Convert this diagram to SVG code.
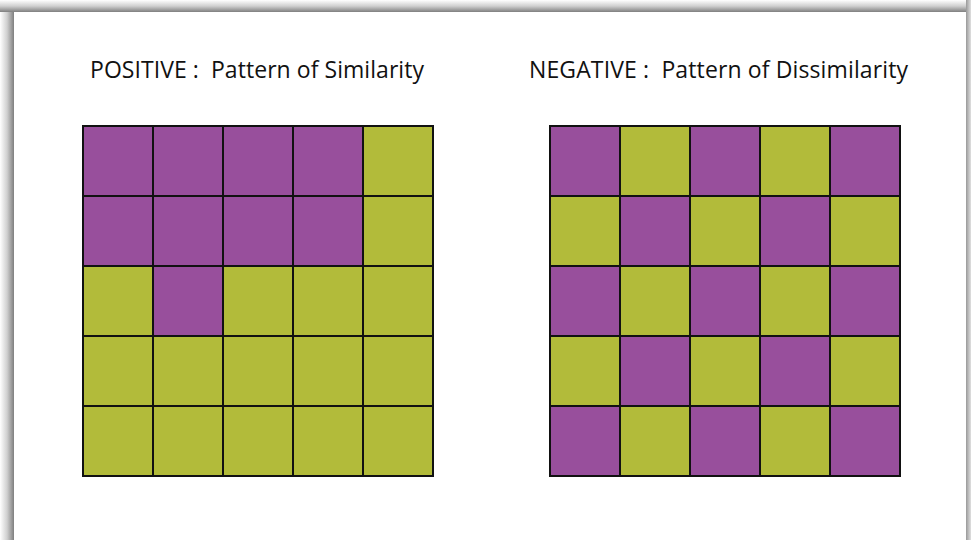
<svg xmlns="http://www.w3.org/2000/svg" width="971" height="540" viewBox="0 0 971 540">
<defs>
<linearGradient id="shL" x1="0" y1="0" x2="1" y2="0">
<stop offset="0" stop-color="#ffffff"/>
<stop offset="0.5" stop-color="#d0d0d0"/>
<stop offset="1" stop-color="#7f7f7f"/>
</linearGradient>
<linearGradient id="shT" x1="0" y1="0" x2="0" y2="1">
<stop offset="0" stop-color="#ffffff"/>
<stop offset="0.5" stop-color="#d0d0d0"/>
<stop offset="1" stop-color="#7f7f7f"/>
</linearGradient>
<linearGradient id="shR" x1="0" y1="0" x2="1" y2="0">
<stop offset="0" stop-color="#999999"/>
<stop offset="1" stop-color="#e0e0e0"/>
</linearGradient>
</defs>
<style>
.t{font-family:"Open Sans","Liberation Sans",sans-serif;font-size:23px;fill:#111;white-space:pre}
.p{fill:#984f9c;stroke:#111;stroke-width:2}
.g{fill:#b2bb3a;stroke:#111;stroke-width:2}
</style>
<rect x="0" y="0" width="971" height="540" fill="#ffffff"/>
<rect x="0" y="0" width="14" height="540" fill="url(#shL)"/>
<rect x="0" y="0" width="971" height="12" fill="url(#shT)"/>
<rect x="966" y="0" width="5" height="540" fill="url(#shR)"/>
<rect x="14" y="12" width="952" height="528" fill="#ffffff"/>
<g id="title-positive"><text class="t" x="90" y="78" xml:space="preserve" textLength="334">POSITIVE :  Pattern of Similarity</text></g>
<g id="title-negative"><text class="t" x="529" y="78" xml:space="preserve" textLength="379">NEGATIVE :  Pattern of Dissimilarity</text></g>
<g id="grid-positive">
<rect class="p" x="83" y="126" width="70" height="70"/>
<rect class="p" x="153" y="126" width="70" height="70"/>
<rect class="p" x="223" y="126" width="70" height="70"/>
<rect class="p" x="293" y="126" width="70" height="70"/>
<rect class="g" x="363" y="126" width="70" height="70"/>
<rect class="p" x="83" y="196" width="70" height="70"/>
<rect class="p" x="153" y="196" width="70" height="70"/>
<rect class="p" x="223" y="196" width="70" height="70"/>
<rect class="p" x="293" y="196" width="70" height="70"/>
<rect class="g" x="363" y="196" width="70" height="70"/>
<rect class="g" x="83" y="266" width="70" height="70"/>
<rect class="p" x="153" y="266" width="70" height="70"/>
<rect class="g" x="223" y="266" width="70" height="70"/>
<rect class="g" x="293" y="266" width="70" height="70"/>
<rect class="g" x="363" y="266" width="70" height="70"/>
<rect class="g" x="83" y="336" width="70" height="70"/>
<rect class="g" x="153" y="336" width="70" height="70"/>
<rect class="g" x="223" y="336" width="70" height="70"/>
<rect class="g" x="293" y="336" width="70" height="70"/>
<rect class="g" x="363" y="336" width="70" height="70"/>
<rect class="g" x="83" y="406" width="70" height="70"/>
<rect class="g" x="153" y="406" width="70" height="70"/>
<rect class="g" x="223" y="406" width="70" height="70"/>
<rect class="g" x="293" y="406" width="70" height="70"/>
<rect class="g" x="363" y="406" width="70" height="70"/>
</g>
<g id="grid-negative">
<rect class="p" x="550" y="126" width="70" height="70"/>
<rect class="g" x="620" y="126" width="70" height="70"/>
<rect class="p" x="690" y="126" width="70" height="70"/>
<rect class="g" x="760" y="126" width="70" height="70"/>
<rect class="p" x="830" y="126" width="70" height="70"/>
<rect class="g" x="550" y="196" width="70" height="70"/>
<rect class="p" x="620" y="196" width="70" height="70"/>
<rect class="g" x="690" y="196" width="70" height="70"/>
<rect class="p" x="760" y="196" width="70" height="70"/>
<rect class="g" x="830" y="196" width="70" height="70"/>
<rect class="p" x="550" y="266" width="70" height="70"/>
<rect class="g" x="620" y="266" width="70" height="70"/>
<rect class="p" x="690" y="266" width="70" height="70"/>
<rect class="g" x="760" y="266" width="70" height="70"/>
<rect class="p" x="830" y="266" width="70" height="70"/>
<rect class="g" x="550" y="336" width="70" height="70"/>
<rect class="p" x="620" y="336" width="70" height="70"/>
<rect class="g" x="690" y="336" width="70" height="70"/>
<rect class="p" x="760" y="336" width="70" height="70"/>
<rect class="g" x="830" y="336" width="70" height="70"/>
<rect class="p" x="550" y="406" width="70" height="70"/>
<rect class="g" x="620" y="406" width="70" height="70"/>
<rect class="p" x="690" y="406" width="70" height="70"/>
<rect class="g" x="760" y="406" width="70" height="70"/>
<rect class="p" x="830" y="406" width="70" height="70"/>
</g>
</svg>
